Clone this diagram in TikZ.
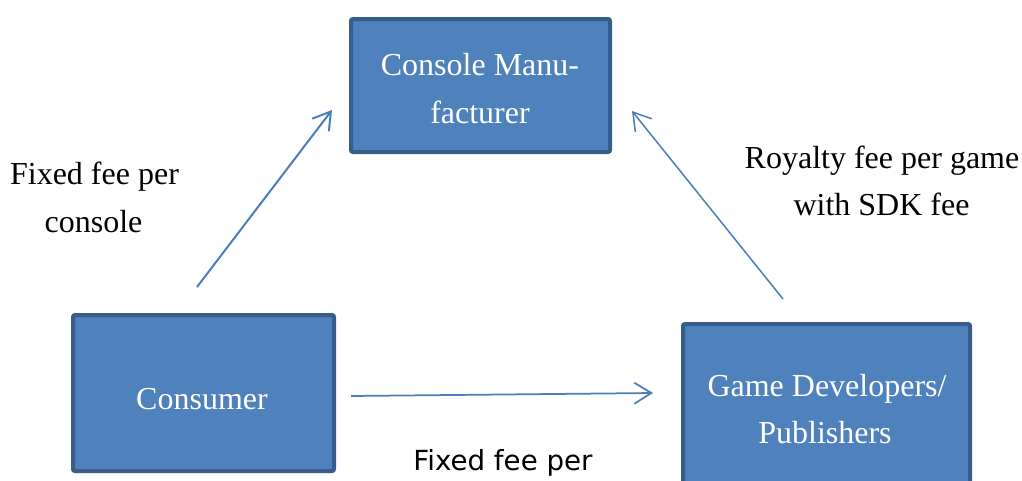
\documentclass[tikz,border=0pt]{standalone}
\usepackage{fontspec}
\setmainfont{Liberation Serif}
\newfontfamily\labelsans{DejaVu Sans}
\usetikzlibrary{arrows.meta}

\definecolor{boxfill}{HTML}{4F81BD}
\definecolor{boxline}{HTML}{385D8A}
\definecolor{flowline}{HTML}{4A7EBB}

\tikzset{
  partybox/.style={draw=boxline, fill=boxfill, line width=4pt, rounded corners=2pt},
  boxtext/.style={text=white, font=\fontsize{32}{38}\selectfont, inner sep=0pt, anchor=base},
  feetext/.style={text=black, font=\fontsize{32}{38}\selectfont, inner sep=0pt, anchor=base},
  sanstext/.style={text=black, font=\labelsans\fontsize{27.7}{33}\selectfont, inner sep=0pt, anchor=base},
  flow/.style={draw=flowline, -{Straight Barb[length=17pt,width=21pt]}},
}

\begin{document}
\begin{tikzpicture}[x=1pt, y=-1pt]
  \useasboundingbox (0,0) rectangle (1022,480);
  \clip (0,0) rectangle (1022,480);

  % the three parties
  \draw[partybox] (351,19) rectangle (610,152);
  \draw[partybox] (73,315) rectangle (334,471);
  \draw[partybox] (683,324) rectangle (970,495);

  \node[boxtext] (manuA) at (480,75) {Console Manu-};
  \node[boxtext] (manuB) at (480,123) {facturer};
  \node[boxtext] (cons) at (202,409) {Consumer};
  \node[boxtext] (devA) at (827,396) {Game Developers/};
  \node[boxtext] (devB) at (825,443) {Publishers};

  % payment flows
  \coordinate (consOut) at (197,287);
  \coordinate (manuInL) at (332,110);
  \coordinate (devOut) at (783,299);
  \coordinate (manuInR) at (632,111);
  \coordinate (consRight) at (351,396);
  \coordinate (devIn) at (653,393);

  \draw[flow, line width=2pt] (consOut) -- (manuInL);
  \draw[flow, line width=1.5pt] (devOut) -- (manuInR);
  \draw[flow, line width=1.75pt] (consRight) -- (devIn);

  % fee labels
  \node[feetext] (feeA) at (94.5,184) {Fixed fee per};
  \node[feetext] (feeB) at (93.5,232) {console};
  \node[feetext] (royA) at (882,168) {Royalty fee per game};
  \node[feetext] (royB) at (881.5,215) {with SDK fee};
  \node[sanstext] (gameFee) at (503,470) {Fixed fee per};
\end{tikzpicture}
\end{document}
